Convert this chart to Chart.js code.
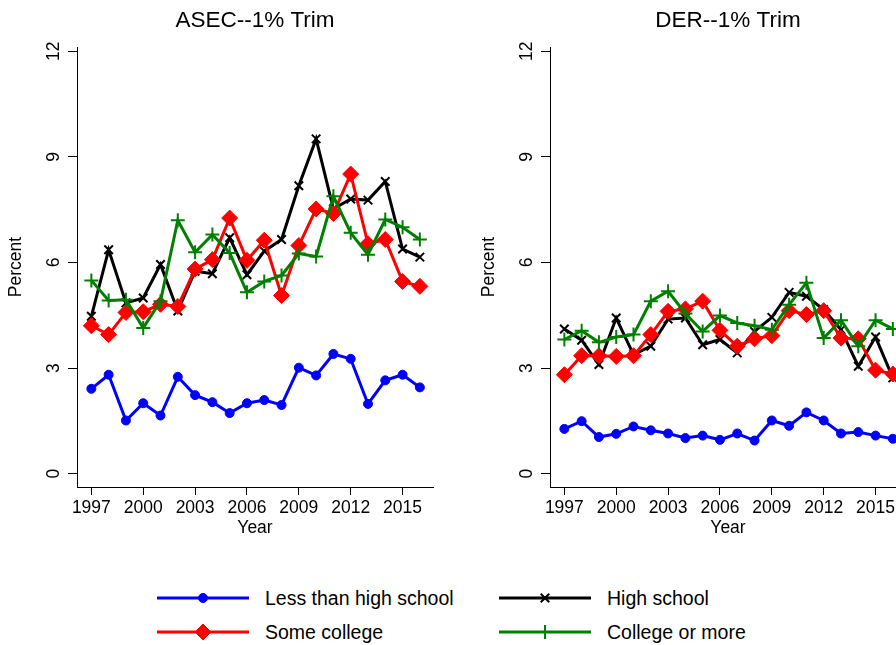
<!DOCTYPE html>
<html>
<head>
<meta charset="utf-8">
<script src="https://cdn.jsdelivr.net/npm/chart.js@4.4.1/dist/chart.umd.min.js"></script>
<style>
  body { margin: 0; width: 896px; height: 645px; overflow: hidden; background: #fff; position: relative;
         font-family: "Liberation Sans", Arial, Helvetica, sans-serif; }
  .panel { position: absolute; top: 0; }
  .key { position: absolute; width: 340px; height: 24px; }
  .key canvas { position: absolute; left: 0; top: 0; }
  .key span { position: absolute; left: 108px; top: 0; line-height: 24px; font-size: 19.5px; color: #000; white-space: nowrap; }
</style>
</head>
<body>
<canvas id="asec" class="panel" width="473" height="545" style="left:0"></canvas>
<canvas id="der" class="panel" width="473" height="545" style="left:473px"></canvas>
<div id="legend"></div>
<script>
const years = [1997, 1998, 1999, 2000, 2001, 2002, 2003, 2004, 2005, 2006,
               2007, 2008, 2009, 2010, 2011, 2012, 2013, 2014, 2015, 2016];
const xTicks = [1997, 2000, 2003, 2006, 2009, 2012, 2015];
const yTicks = [0, 3, 6, 9, 12];
const groups = ["Less than high school", "High school", "Some college", "College or more"];

// ASEC, 1% trim
const asecLessHS  = [2.41, 2.81, 1.51, 2.00, 1.65, 2.75, 2.23, 2.03, 1.72, 2.00, 2.09, 1.95, 3.01, 2.79, 3.40, 3.26, 1.98, 2.65, 2.81, 2.45];
const asecHS      = [4.47, 6.36, 4.85, 4.99, 5.94, 4.62, 5.75, 5.68, 6.70, 5.65, 6.32, 6.65, 8.18, 9.51, 7.52, 7.80, 7.77, 8.30, 6.38, 6.15];
const asecSomeCol = [4.20, 3.95, 4.58, 4.60, 4.81, 4.75, 5.81, 6.08, 7.26, 6.06, 6.63, 5.06, 6.48, 7.52, 7.39, 8.51, 6.53, 6.65, 5.46, 5.32];
const asecCollege = [5.49, 4.92, 4.94, 4.14, 4.90, 7.20, 6.29, 6.79, 6.27, 5.15, 5.46, 5.63, 6.25, 6.17, 7.88, 6.84, 6.22, 7.22, 7.00, 6.65];

// DER, 1% trim
const derLessHS  = [1.27, 1.49, 1.04, 1.13, 1.34, 1.23, 1.14, 1.01, 1.08, 0.96, 1.14, 0.94, 1.51, 1.36, 1.74, 1.51, 1.14, 1.18, 1.08, 0.99];
const derHS      = [4.11, 3.79, 3.10, 4.42, 3.38, 3.62, 4.39, 4.42, 3.66, 3.81, 3.43, 4.04, 4.44, 5.15, 5.04, 4.66, 4.09, 3.05, 3.88, 2.72];
const derSomeCol = [2.81, 3.35, 3.35, 3.33, 3.35, 3.95, 4.61, 4.68, 4.90, 4.07, 3.62, 3.83, 3.92, 4.63, 4.52, 4.63, 3.85, 3.83, 2.94, 2.83];
const derCollege = [3.81, 4.06, 3.73, 3.88, 3.95, 4.90, 5.18, 4.55, 4.04, 4.49, 4.28, 4.20, 4.09, 4.80, 5.42, 3.85, 4.36, 3.62, 4.36, 4.11];

const FONT = '"Liberation Sans", Arial, Helvetica, sans-serif';

// marker look for each group (same order as groups)
const styles = [
  { color: "#0000ff", pointStyle: "circle",   radius: 4.5, pw: 1 },
  { color: "#000000", pointStyle: "crossRot", radius: 6,   pw: 2 },
  { color: "#ff0000", pointStyle: "rectRot",  radius: 8,   pw: 1 },
  { color: "#008000", pointStyle: "cross",    radius: 7,   pw: 2 },
];

Chart.defaults.font.family = FONT;
Chart.defaults.color = "#000";

// rotated y tick labels plus the panel heading
const panelText = {
  id: "panelText",
  afterDraw(chart, args, opts) {
    const ctx = chart.ctx;
    const ys = chart.scales.y;
    const area = chart.chartArea;
    ctx.save();
    ctx.fillStyle = "#000";
    ctx.font = "17.5px " + FONT;
    ctx.textAlign = "center";
    ctx.textBaseline = "middle";
    yTicks.forEach(v => {
      ctx.save();
      ctx.translate(53, ys.getPixelForValue(v));
      ctx.rotate(-Math.PI / 2);
      ctx.fillText(String(v), 0, 1);
      ctx.restore();
    });
    ctx.font = "22.5px " + FONT;
    ctx.textBaseline = "alphabetic";
    ctx.fillText(opts.heading, (area.left + area.right) / 2, 27);
    ctx.restore();
  }
};

function makeDatasets(series) {
  // later groups sit on top
  return series.map((vals, i) => ({
    label: groups[i],
    data: years.map((yr, j) => ({ x: yr, y: vals[j] })),
    borderColor: styles[i].color,
    backgroundColor: styles[i].color,
    borderWidth: 3,
    pointStyle: styles[i].pointStyle,
    pointRadius: styles[i].radius,
    pointBorderWidth: styles[i].pw,
    pointBorderColor: styles[i].color,
    pointBackgroundColor: styles[i].color,
    tension: 0,
    order: 4 - i,
  }));
}

function makePanel(id, heading, series) {
  return new Chart(document.getElementById(id), {
    type: "line",
    data: { datasets: makeDatasets(series) },
    plugins: [panelText],
    options: {
      responsive: false,
      animation: false,
      devicePixelRatio: 1,
      layout: { padding: { top: 47, left: 0, right: 40, bottom: 0 } },
      plugins: {
        legend: { display: false },
        tooltip: { enabled: false },
        panelText: { heading: heading },
      },
      scales: {
        x: {
          type: "linear",
          min: 1996.17,
          max: 2016.76,
          afterBuildTicks: s => { s.ticks = xTicks.map(v => ({ value: v })); },
          afterFit: s => { s.height = 58; },
          ticks: {
            autoSkip: false, maxRotation: 0, padding: 3,
            font: { size: 17.5 },
            callback: v => String(v),
          },
          grid: { drawOnChartArea: false, drawTicks: true, tickLength: 8, color: "#000", lineWidth: 1 },
          border: { display: true, color: "#000", width: 1 },
          title: { display: true, text: "Year", font: { size: 17.5 }, padding: { top: 0, bottom: 6 } },
        },
        y: {
          min: -0.38,
          max: 12.12,
          afterBuildTicks: s => { s.ticks = yTicks.map(v => ({ value: v })); },
          afterFit: s => { s.width = 77; },
          ticks: { display: false },
          grid: { drawOnChartArea: false, drawTicks: true, tickLength: 9, color: "#000", lineWidth: 1 },
          border: { display: true, color: "#000", width: 1 },
          title: { display: true, text: "Percent", font: { size: 17.5 }, padding: { top: 5.5, bottom: 0 } },
        },
      },
    },
  });
}

makePanel("asec", "ASEC--1% Trim", [asecLessHS, asecHS, asecSomeCol, asecCollege]);
makePanel("der", "DER--1% Trim", [derLessHS, derHS, derSomeCol, derCollege]);

// legend: two rows, two columns
const keySlots = [
  { left: 157, top: 586 }, { left: 499, top: 586 },
  { left: 157, top: 620 }, { left: 499, top: 620 },
];
const legend = document.getElementById("legend");
groups.forEach((name, i) => {
  const box = document.createElement("div");
  box.className = "key";
  box.style.left = keySlots[i].left + "px";
  box.style.top = keySlots[i].top + "px";
  const c = document.createElement("canvas");
  c.width = 100; c.height = 24;
  const span = document.createElement("span");
  span.textContent = name;
  box.appendChild(c);
  box.appendChild(span);
  legend.appendChild(box);

  const ctx = c.getContext("2d");
  const st = styles[i];
  ctx.strokeStyle = st.color;
  ctx.fillStyle = st.color;
  ctx.lineWidth = 3;
  ctx.beginPath();
  ctx.moveTo(0, 12);
  ctx.lineTo(92, 12);
  ctx.stroke();
  ctx.lineWidth = st.pw;
  Chart.helpers.drawPoint(ctx, { pointStyle: st.pointStyle, radius: st.radius, borderWidth: st.pw }, 46, 12);
});
</script>
</body>
</html>
